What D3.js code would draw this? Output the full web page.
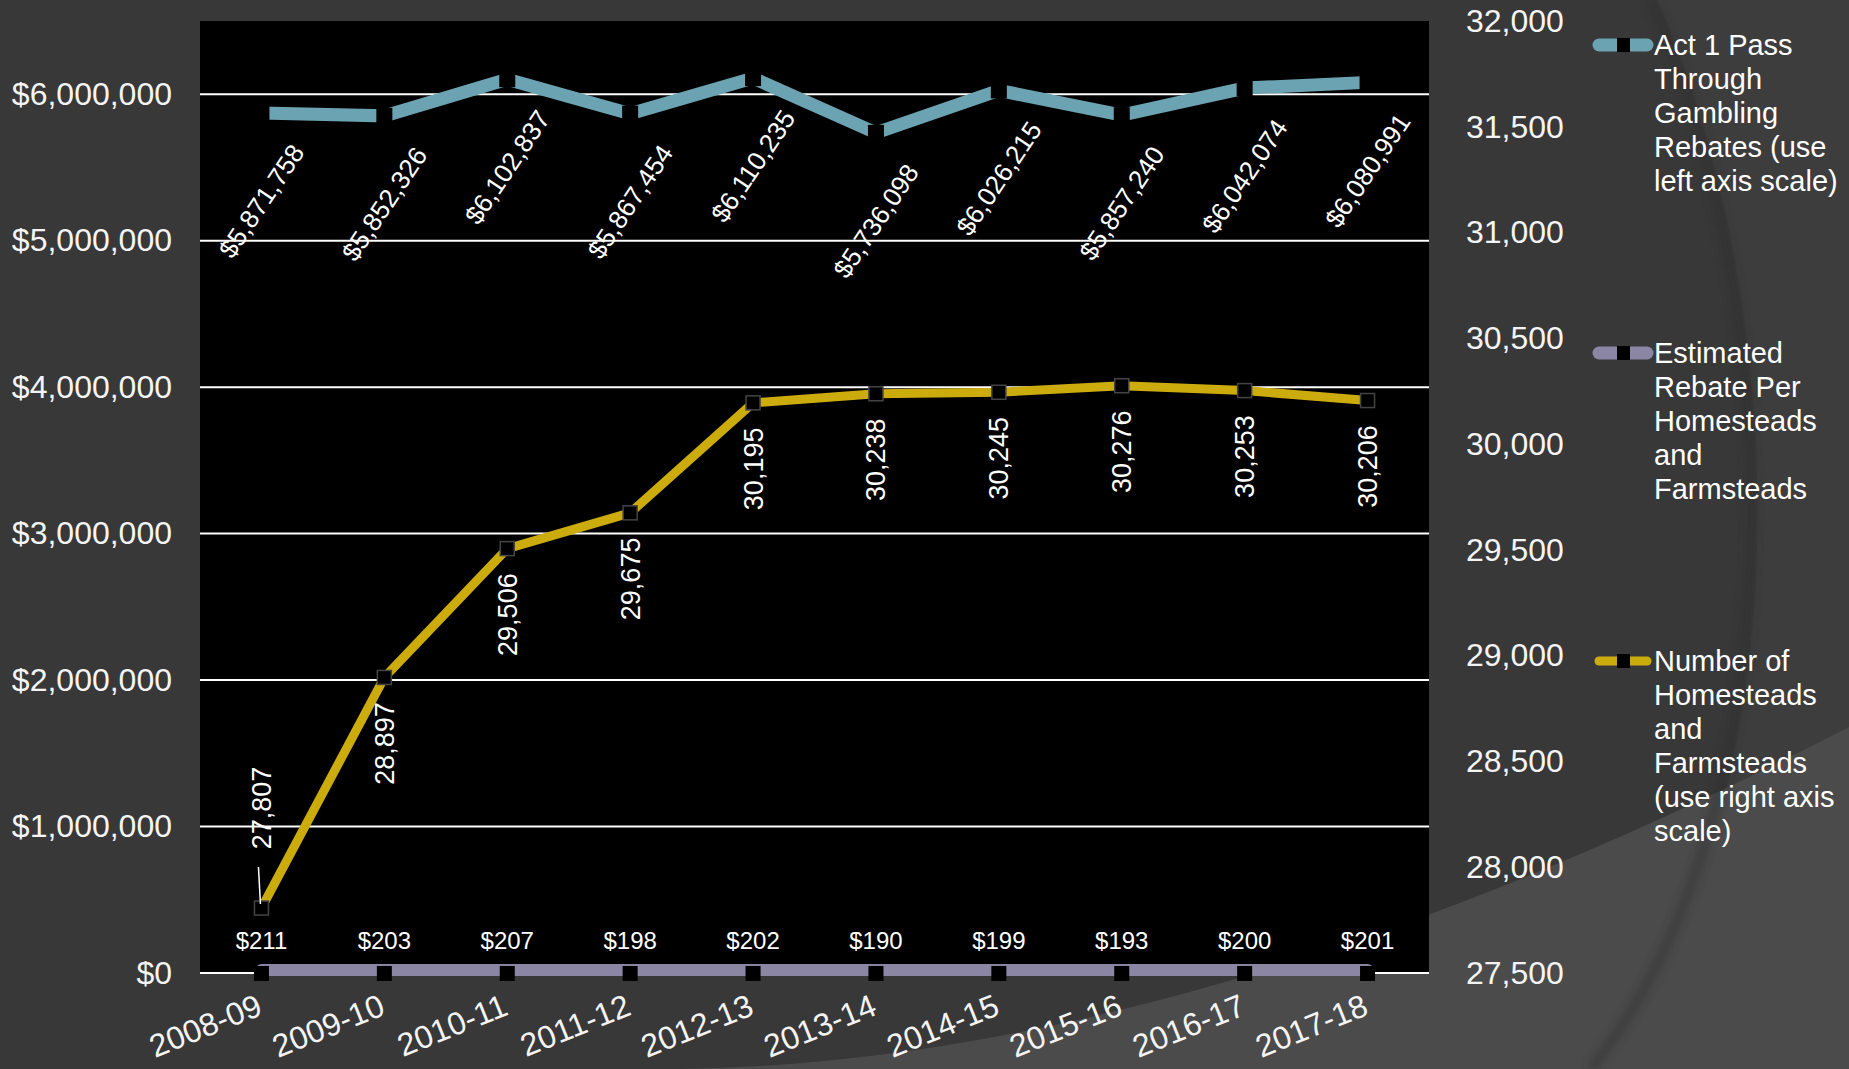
<!DOCTYPE html>
<html>
<head>
<meta charset="utf-8">
<script src="https://cdn.jsdelivr.net/npm/d3@7"></script>
<style>
  html, body { margin: 0; padding: 0; background: #383838; }
  svg { display: block; font-family: "Liberation Sans", Arial, sans-serif; }
  .axis text { fill: #f4f4f4; font-size: 32px; }
</style>
</head>
<body>
<svg id="chart" width="1849" height="1069"></svg>
<script>
// data
var categories = ["2008-09", "2009-10", "2010-11", "2011-12", "2012-13",
                  "2013-14", "2014-15", "2015-16", "2016-17", "2017-18"];
var act1Rebates = [5871758, 5852326, 6102837, 5867454, 6110235,
                   5736098, 6026215, 5857240, 6042074, 6080991];
var rebatePerHome = [211, 203, 207, 198, 202, 190, 199, 193, 200, 201];
var homesteads = [27807, 28897, 29506, 29675, 30195,
                  30238, 30245, 30276, 30253, 30206];
var leftTicks = [0, 1000000, 2000000, 3000000, 4000000, 5000000, 6000000];
var rightTicks = [27500, 28000, 28500, 29000, 29500, 30000, 30500, 31000, 31500, 32000];
var legendItems = [
  {lines: ["Act 1 Pass", "Through", "Gambling", "Rebates (use", "left axis scale)"], color: "#6ca3b2", width: 13, y: 45},
  {lines: ["Estimated", "Rebate Per", "Homesteads", "and", "Farmsteads"], color: "#8a86a4", width: 13, y: 353},
  {lines: ["Number of", "Homesteads", "and", "Farmsteads", "(use right axis", "scale)"], color: "#ccab0c", width: 9, y: 661}
];

var drawChart = function() {
  var W = 1849, H = 1069;
  var plot = {left: 200, right: 1429, top: 21, bottom: 973};

  var svg = d3.select("#chart");

  // background swooshes
  var defs = svg.append("defs");
  defs.append("filter").attr("id", "soft")
    .attr("x", "-10%").attr("y", "-10%").attr("width", "120%").attr("height", "120%")
    .append("feGaussianBlur").attr("stdDeviation", 5);

  var arc = "M1657,0 C1790,300 1810,800 1597,1069";
  svg.append("rect").attr("width", W).attr("height", H).attr("fill", "#383838");
  svg.append("path")
    .attr("d", arc + " L1849,1069 L1849,0 Z")
    .attr("fill", "#3d3d3d");
  svg.append("path")
    .attr("d", "M680,1069 Q1200,1062 1849,727 L1849,1069 Z")
    .attr("fill", "#4b4b4b");
  svg.append("path")
    .attr("d", arc).attr("transform", "translate(-6,0)")
    .attr("fill", "none").attr("stroke", "#2a2a2a").attr("stroke-width", 8)
    .attr("opacity", 0.5).attr("filter", "url(#soft)");

  var xScale = d3.scalePoint().domain(categories)
    .range([plot.left, plot.right]).padding(0.5);
  var yLeft = d3.scaleLinear().domain([0, 6500000]).range([plot.bottom, plot.top]);
  var yRight = d3.scaleLinear().domain([27500, 32000]).range([plot.bottom, plot.top]);

  // plot area
  svg.append("rect")
    .attr("x", plot.left).attr("y", plot.top)
    .attr("width", plot.right - plot.left).attr("height", plot.bottom - plot.top)
    .attr("fill", "#000");

  // gridlines
  svg.append("g").selectAll("line")
    .data(leftTicks).enter().append("line")
    .attr("x1", plot.left).attr("x2", plot.right)
    .attr("y1", function(d) { return yLeft(d); })
    .attr("y2", function(d) { return yLeft(d); })
    .attr("stroke", "#fff").attr("stroke-width", 2);

  // axes
  var fmt = d3.format(",");
  var leftAxis = svg.append("g").attr("class", "axis")
    .attr("transform", "translate(" + plot.left + ",0)")
    .call(d3.axisLeft(yLeft).tickValues(leftTicks)
      .tickFormat(function(d) { return "$" + fmt(d); })
      .tickSize(0).tickPadding(28));
  leftAxis.select(".domain").remove();

  var rightAxis = svg.append("g").attr("class", "axis")
    .attr("transform", "translate(" + plot.right + ",0)")
    .call(d3.axisRight(yRight).tickValues(rightTicks)
      .tickFormat(fmt).tickSize(0).tickPadding(37));
  rightAxis.select(".domain").remove();

  var bottomAxis = svg.append("g").attr("class", "axis")
    .attr("transform", "translate(0," + plot.bottom + ")")
    .call(d3.axisBottom(xScale).tickSize(0));
  bottomAxis.select(".domain").remove();
  bottomAxis.selectAll("text")
    .attr("text-anchor", "end")
    .attr("font-size", "30px")
    .attr("y", 0).attr("dy", 0)
    .attr("transform", "translate(2,41) rotate(-22)");

  // Act 1 line
  var lineLeft = d3.line()
    .x(function(d, i) { return xScale(categories[i]); })
    .y(function(d) { return yLeft(d); });
  var lineRight = d3.line()
    .x(function(d, i) { return xScale(categories[i]); })
    .y(function(d) { return yRight(d); });

  svg.append("path").datum(act1Rebates)
    .attr("d", lineLeft).attr("fill", "none")
    .attr("stroke", "#6ca3b2").attr("stroke-width", 13);
  svg.append("g").selectAll("rect")
    .data(act1Rebates).enter().append("rect")
    .attr("x", function(d, i) { return xScale(categories[i]) - 8; })
    .attr("y", function(d) { return yLeft(d) - 8; })
    .attr("width", 16).attr("height", 16).attr("fill", "#000");

  // homesteads line
  svg.append("path").datum(homesteads)
    .attr("d", lineRight).attr("fill", "none")
    .attr("stroke", "#ccab0c").attr("stroke-width", 9);
  svg.append("g").selectAll("rect")
    .data(homesteads).enter().append("rect")
    .attr("x", function(d, i) { return xScale(categories[i]) - 7; })
    .attr("y", function(d) { return yRight(d) - 7; })
    .attr("width", 14).attr("height", 14).attr("fill", "#000")
    .attr("stroke", "#444").attr("stroke-width", 1.5);

  // rebate per homestead line (left axis, sits on 0)
  svg.append("path").datum(rebatePerHome)
    .attr("d", lineLeft).attr("fill", "none")
    .attr("stroke", "#8a86a4").attr("stroke-width", 12)
    .attr("stroke-linecap", "round")
    .attr("transform", "translate(0,-3)");
  svg.append("g").selectAll("rect")
    .data(rebatePerHome).enter().append("rect")
    .attr("x", function(d, i) { return xScale(categories[i]) - 7.5; })
    .attr("y", function(d) { return yLeft(d) - 7; })
    .attr("width", 15).attr("height", 15).attr("fill", "#000");

  // data labels
  svg.append("g").selectAll("text")
    .data(act1Rebates).enter().append("text")
    .attr("transform", function(d, i) {
      return "translate(" + xScale(categories[i]) + "," + (yLeft(d) + 88) + ") rotate(-56)";
    })
    .attr("text-anchor", "middle").attr("dy", "0.35em")
    .attr("fill", "#fff").attr("font-size", "26px")
    .text(function(d) { return "$" + fmt(d); });

  svg.append("g").selectAll("text")
    .data(homesteads).enter().append("text")
    .attr("transform", function(d, i) {
      var off = i === 0 ? -100 : 66;
      return "translate(" + xScale(categories[i]) + "," + (yRight(d) + off) + ") rotate(-90)";
    })
    .attr("text-anchor", "middle").attr("dy", "0.35em")
    .attr("fill", "#fff").attr("font-size", "27px")
    .text(function(d) { return fmt(d); });

  // leader line for the first homesteads label
  svg.append("line")
    .attr("x1", xScale(categories[0]) - 3).attr("y1", yRight(homesteads[0]) - 41)
    .attr("x2", xScale(categories[0]) - 1).attr("y2", yRight(homesteads[0]) - 4)
    .attr("stroke", "#fff").attr("stroke-width", 1.5);

  svg.append("g").selectAll("text")
    .data(rebatePerHome).enter().append("text")
    .attr("x", function(d, i) { return xScale(categories[i]); })
    .attr("y", function(d) { return yLeft(d) - 32; })
    .attr("text-anchor", "middle").attr("dy", "0.35em")
    .attr("fill", "#fff").attr("font-size", "24px")
    .text(function(d) { return "$" + d; });

  // legend
  var legend = svg.append("g").attr("transform", "translate(1593,0)");
  var items = legend.selectAll("g").data(legendItems).enter().append("g")
    .attr("transform", function(d) { return "translate(0," + d.y + ")"; });
  items.append("line")
    .attr("x1", 6).attr("x2", 54).attr("y1", 0).attr("y2", 0)
    .attr("stroke", function(d) { return d.color; })
    .attr("stroke-width", function(d) { return d.width; })
    .attr("stroke-linecap", "round");
  items.append("rect")
    .attr("x", 24).attr("y", -7).attr("width", 13).attr("height", 14).attr("fill", "#000");
  items.append("text")
    .attr("x", 61).attr("fill", "#fff").attr("font-size", "29px")
    .selectAll("tspan").data(function(d) { return d.lines; }).enter().append("tspan")
    .attr("x", 61)
    .attr("y", function(d, i) { return i * 34; })
    .attr("dy", "0.35em")
    .text(function(d) { return d; });
};

drawChart();
</script>
</body>
</html>
